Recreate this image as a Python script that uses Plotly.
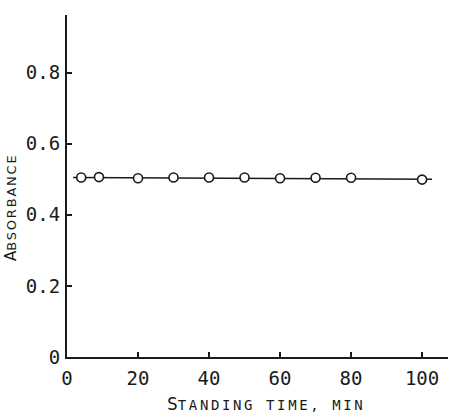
import plotly.graph_objects as go

# Data
standing_time = [4, 9, 20, 30, 40, 50, 60, 70, 80, 100]
absorbance = [0.505, 0.506, 0.503, 0.505, 0.505, 0.505, 0.503, 0.504, 0.504, 0.499]
fit_x = [1.7, 102.8]
fit_y = [0.505, 0.500]

x_tickvals = [0, 20, 40, 60, 80, 100]
x_ticktext = ["0", "20", "40", "60", "80", "100"]
y_tickvals = [0, 0.2, 0.4, 0.6, 0.8]
y_ticktext = ["0", "0.2", "0.4", "0.6", "0.8"]

INK = "#1a1a1a"
MONO = "DejaVu Sans Mono"

fig = go.Figure()
fig.add_trace(go.Scatter(x=fit_x, y=fit_y, mode="lines",
                         line=dict(color=INK, width=1.6), hoverinfo="skip"))
fig.add_trace(go.Scatter(x=standing_time, y=absorbance, mode="markers",
                         marker=dict(symbol="circle", size=9, color="white",
                                     line=dict(color=INK, width=1.6))))

fig.update_layout(
    width=466, height=420,
    margin=dict(l=67, r=18, t=15, b=63),
    paper_bgcolor="white", plot_bgcolor="white",
    showlegend=False,
    font=dict(family=MONO, color=INK, size=19),
    xaxis=dict(range=[0, 107.3], tickvals=x_tickvals, ticktext=x_ticktext,
               ticks="inside", ticklen=5, tickwidth=1.5, tickcolor=INK,
               showline=True, linecolor=INK, linewidth=2, showgrid=False,
               zeroline=False, ticklabelstandoff=3),
    yaxis=dict(range=[0, 0.962], tickvals=y_tickvals, ticktext=y_ticktext,
               ticks="inside", ticklen=5, tickwidth=1.5, tickcolor=INK,
               showline=True, linecolor=INK, linewidth=2, showgrid=False,
               zeroline=False, ticklabelstandoff=1),
)

fig.add_annotation(
    text="S<span style='font-size:14px;letter-spacing:2.6px'>TANDING TIME, MIN</span>",
    xref="paper", yref="paper", x=(266 - 67) / 381, y=-(404 - 357) / 342,
    xanchor="center", yanchor="middle", showarrow=False,
    font=dict(family=MONO, size=18, color=INK))

fig.add_annotation(
    text="A<span style='font-size:13px;letter-spacing:1.8px'>BSORBANCE</span>",
    xref="paper", yref="paper", x=-(67 - 11) / 381, y=(357 - 207) / 342,
    xanchor="center", yanchor="middle", textangle=-90, showarrow=False,
    font=dict(family="DejaVu Sans", size=15, color=INK))

fig.write_html("out.html")
